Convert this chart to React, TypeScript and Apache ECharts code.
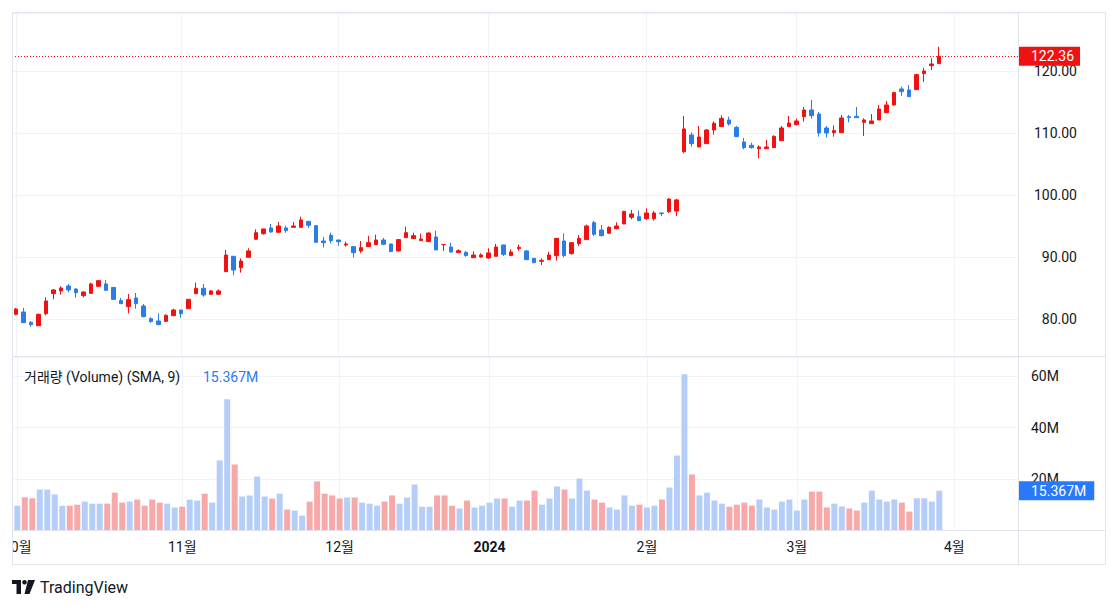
import React, { useEffect, useRef } from "react";
import * as echarts from "echarts";

// Trading sessions shown on the time scale (month -> days)
const tradingMonths: [string, number[]][] = [
  ["2023-10", [2, 3, 4, 5, 6, 9, 10, 11, 12, 13, 16, 17, 18, 19, 20, 23, 24, 25, 26, 27, 30, 31]],
  ["2023-11", [1, 2, 3, 6, 7, 8, 9, 10, 13, 14, 15, 16, 17, 20, 21, 22, 24, 27, 28, 29, 30]],
  ["2023-12", [1, 4, 5, 6, 7, 8, 11, 12, 13, 14, 15, 18, 19, 20, 21, 22, 26, 27, 28, 29]],
  ["2024-01", [2, 3, 4, 5, 8, 9, 10, 11, 12, 16, 17, 18, 19, 22, 23, 24, 25, 26, 29, 30, 31]],
  ["2024-02", [1, 2, 5, 6, 7, 8, 9, 12, 13, 14, 15, 16, 20, 21, 22, 23, 26, 27, 28, 29]],
  ["2024-03", [1, 4, 5, 6, 7, 8, 11, 12, 13, 14, 15, 18, 19, 20, 21, 22, 25, 26, 27, 28, 29]],
  ["2024-04", [1, 2, 3, 4, 5, 8, 9, 10, 11]],
];

const opens = [
  80.75, 81.13, 79.46, 78.92, 80.86, 84.09, 84.52, 85.32, 84.84, 83.76,
  84.14, 85.27, 85.65, 85.1, 82.96, 81.99, 83.39, 82.1, 80.05, 79.68,
  79.62, 80.54, 81.45, 81.67, 84.09, 84.95, 83.98, 83.98, 87.63, 90.11,
  88.28, 89.95, 92.85, 93.76, 94.68, 93.98, 94.68, 94.78, 94.78, 95.75,
  95.05, 92.58, 93.49, 92.74, 91.94, 91.67, 90.97, 91.67, 91.99, 92.74,
  92.1, 90.97, 93.12, 92.96, 92.63, 92.47, 93.23, 92.0, 91.61, 90.7,
  90.75, 89.89, 90.0, 89.84, 90.11, 91.94, 90.22, 91.34, 90.97, 89.78,
  89.3, 89.57, 90.22, 92.58, 90.54, 92.15, 92.8, 95.54, 94.35, 93.82,
  94.57, 95.32, 96.4, 96.5, 96.18, 96.18, 97.1, 97.3, 97.4, 106.99,
  109.68, 107.74, 108.28, 110.48, 111.02, 112.1, 110.91, 108.55, 108.01, 107.47,
  107.47, 107.63, 108.76, 111.02, 111.34, 112.63, 113.71, 113.06, 110.81, 110.05,
  110.05, 112.63, 112.69, 111.72, 111.51, 112.1, 113.28, 114.52, 117.1, 116.94,
  116.99, 119.57, 120.86, 121.18,
];
const highs = [
  81.77, 81.77, 79.68, 80.86, 83.5, 84.84, 85.27, 85.65, 84.95, 84.46,
  85.86, 86.29, 86.29, 85.1, 83.39, 84.03, 84.19, 82.42, 80.27, 80.91,
  80.75, 81.67, 81.45, 83.17, 85.86, 85.65, 84.68, 84.78, 91.13, 90.11,
  89.78, 91.4, 94.46, 94.52, 95.32, 95.65, 95.05, 95.65, 96.5, 95.75,
  95.16, 93.23, 93.92, 92.74, 92.47, 91.67, 92.58, 93.39, 93.6, 93.06,
  92.1, 92.9, 94.89, 93.92, 93.76, 93.98, 94.25, 92.04, 92.31, 91.24,
  90.91, 90.91, 90.59, 91.4, 92.1, 91.94, 91.24, 91.99, 91.13, 89.78,
  89.78, 90.81, 93.01, 93.82, 92.31, 93.55, 95.22, 95.81, 95.16, 94.95,
  95.59, 97.37, 97.58, 97.47, 97.85, 97.42, 97.2, 99.5, 99.4, 112.74,
  110.11, 111.13, 110.65, 111.88, 112.85, 112.63, 111.13, 109.19, 108.44, 108.01,
  108.87, 109.62, 111.13, 112.74, 112.31, 114.19, 115.32, 113.39, 111.13, 111.24,
  112.9, 112.9, 114.19, 112.37, 113.06, 114.52, 115.16, 116.67, 117.47, 117.74,
  119.57, 120.48, 122.04, 123.92,
];
const lows = [
  80.59, 79.35, 78.76, 78.92, 80.59, 83.17, 83.92, 84.3, 83.44, 83.49,
  84.03, 85.22, 84.62, 83.17, 82.47, 80.91, 81.67, 80.27, 79.41, 79.09,
  79.52, 80.43, 80.22, 81.67, 84.09, 83.6, 83.98, 83.98, 87.58, 87.04,
  87.47, 89.95, 92.85, 93.6, 93.92, 93.98, 93.92, 94.78, 94.78, 94.68,
  92.37, 91.53, 92.2, 91.83, 91.67, 89.9, 90.65, 91.67, 91.99, 92.04,
  90.86, 90.86, 93.12, 92.96, 92.63, 92.47, 91.13, 90.97, 90.7, 90.7,
  90.05, 89.89, 89.89, 89.73, 90.11, 90.16, 90.22, 91.02, 89.52, 88.98,
  88.71, 89.57, 89.41, 89.95, 90.38, 91.77, 92.8, 93.39, 93.33, 93.82,
  94.46, 95.32, 96.08, 95.86, 95.97, 95.86, 96.6, 97.1, 96.6, 106.72,
  107.8, 107.74, 108.28, 109.73, 111.02, 111.18, 109.41, 107.37, 107.47, 105.91,
  107.47, 107.63, 108.76, 111.02, 111.24, 111.83, 112.31, 109.41, 109.25, 109.41,
  110.05, 111.72, 112.47, 109.52, 111.51, 112.1, 113.28, 114.41, 115.97, 115.86,
  116.99, 118.23, 120.16, 121.18,
];
const closes = [
  81.61, 79.41, 79.09, 80.75, 82.9, 84.68, 85.0, 84.68, 84.25, 84.35,
  85.65, 86.18, 84.62, 83.17, 82.47, 83.12, 82.47, 80.38, 79.57, 79.09,
  80.59, 81.45, 80.86, 83.17, 84.95, 83.87, 84.52, 84.52, 90.32, 87.9,
  89.35, 90.97, 93.92, 94.52, 94.03, 95.0, 94.25, 95.0, 95.97, 95.11,
  92.37, 92.3, 92.63, 92.47, 92.1, 90.7, 91.5, 92.31, 92.74, 92.04,
  90.86, 92.8, 93.92, 93.44, 92.9, 93.87, 91.13, 92.0, 90.81, 91.02,
  90.22, 90.32, 90.32, 90.65, 91.61, 90.43, 90.81, 91.56, 89.57, 89.09,
  89.46, 90.32, 93.01, 90.22, 92.31, 93.01, 95.0, 93.66, 93.44, 94.78,
  95.0, 97.37, 96.94, 95.86, 97.1, 97.1, 97.0, 99.35, 99.2, 110.65,
  108.28, 109.35, 110.48, 111.56, 112.37, 111.45, 109.41, 107.63, 107.63, 107.74,
  107.74, 109.46, 110.81, 111.61, 111.94, 113.71, 112.8, 110.0, 110.0, 110.38,
  112.42, 112.47, 112.47, 112.1, 111.94, 113.87, 114.52, 116.51, 116.67, 115.86,
  119.41, 120.0, 121.13, 122.36,
];
// Volume in millions
const volumes = [
  9.5, 12.8, 12.4, 15.8, 15.8, 13.9, 9.5, 9.5, 9.9, 11.1,
  10.3, 10.3, 10.3, 14.6, 10.7, 11.1, 11.9, 9.5, 11.9, 10.7,
  10.3, 8.8, 9.1, 11.9, 11.5, 14.2, 10.7, 27.2, 51.1, 25.6,
  13.1, 13.5, 20.9, 13.1, 12.3, 14.2, 8.0, 7.6, 5.6, 11.1,
  19.0, 14.2, 13.5, 12.3, 12.7, 12.7, 10.7, 10.3, 9.5, 11.1,
  13.5, 10.3, 12.7, 17.8, 9.1, 9.1, 13.5, 13.5, 9.5, 8.4,
  11.5, 8.8, 9.5, 10.7, 12.3, 12.3, 9.1, 11.5, 11.5, 15.4,
  9.9, 12.3, 17.0, 15.8, 12.3, 20.1, 15.4, 11.9, 10.7, 8.8,
  8.0, 13.5, 9.5, 9.9, 8.8, 9.5, 11.9, 16.6, 29.1, 60.9,
  21.7, 13.5, 14.6, 11.5, 10.3, 9.1, 9.9, 10.7, 9.5, 11.9,
  8.8, 8.0, 11.1, 11.9, 7.6, 11.9, 15.0, 15.0, 8.8, 10.3,
  9.2, 8.4, 7.6, 10.7, 15.4, 11.9, 11.1, 11.9, 10.7, 7.2,
  12.4, 12.4, 11.1, 15.367,
];
const lastPrice = 122.36;
const lastVolume = 15.367;
const volumeTicks = [20, 40, 60];
const legendName = "거래량 (Volume) (SMA, 9)";

const FONT = "Roboto, 'Noto Sans CJK KR', 'Noto Sans', sans-serif";
const UP = "#f01212";
const DOWN = "#2a7de6";
const VOL_UP = "#b5cef8";
const VOL_DOWN = "#f7a8a8";
const GRID = "#f0f3fa";
const FRAME = "#e0e3eb";
const TEXT = "#131722";
const FS = 14;

const dates: string[] = [];
tradingMonths.forEach(([ym, days]) =>
  days.forEach((d) => dates.push(`${ym}-${String(d).padStart(2, "0")}`))
);
const monthStart = new Set<number>();
dates.forEach((d, i) => {
  if (i === 0 || d.slice(0, 7) !== dates[i - 1].slice(0, 7)) monthStart.add(i);
});
const isMonthStart = (i: number) => monthStart.has(i);
const timeLabel = (v: string) => {
  const [y, m] = v.split("-");
  return m === "01" ? `{y|${y}}` : `${Number(m)}월`;
};

export default function App() {
  const ref = useRef<HTMLDivElement>(null);
  useEffect(() => {
    if (!ref.current) return;
    const chart = echarts.init(ref.current, undefined, { renderer: "svg" });
    const candles = opens.map((o, i) => [o, closes[i], lows[i], highs[i]]);
    const vols = volumes.map((v, i) => ({
      value: v,
      itemStyle: { color: closes[i] > opens[i] ? VOL_UP : VOL_DOWN },
    }));
    const vSplit = {
      show: true,
      interval: isMonthStart,
      alignWithLabel: true,
      lineStyle: { color: GRID, width: 1 },
    };
    chart.setOption({
      animation: false,
      textStyle: { fontFamily: FONT },
      grid: [
        { left: 12, top: 13, width: 1006, height: 343 },
        { left: 12, top: 357, width: 1006, height: 173 },
      ],
      xAxis: [
        {
          type: "category",
          gridIndex: 0,
          data: dates,
          axisLine: { show: false },
          axisTick: { show: false },
          axisLabel: { show: false },
          splitLine: vSplit,
        },
        {
          type: "category",
          gridIndex: 1,
          data: dates,
          axisLine: { show: false },
          axisTick: { show: false },
          axisLabel: {
            show: true,
            interval: (i: number) => isMonthStart(i),
            formatter: timeLabel,
            margin: 10,
            color: TEXT,
            fontSize: FS,
            fontFamily: FONT,
            rich: { y: { fontWeight: "bold", fontSize: FS, color: TEXT, fontFamily: FONT } },
          },
          splitLine: vSplit,
        },
      ],
      yAxis: [
        {
          type: "value",
          gridIndex: 0,
          position: "right",
          min: 74.03,
          max: 129.35,
          splitNumber: 5,
          axisLine: { show: false },
          axisTick: { show: false },
          axisLabel: {
            align: "right",
            margin: 59,
            color: TEXT,
            fontSize: FS,
            fontFamily: FONT,
            showMinLabel: false,
            showMaxLabel: false,
            formatter: (v: number) => v.toFixed(2),
          },
          splitLine: { show: true, lineStyle: { color: GRID } },
        },
        {
          type: "value",
          gridIndex: 1,
          position: "right",
          min: 0,
          max: 67.6,
          interval: 20,
          axisLine: { show: false },
          axisTick: { show: false },
          axisLabel: {
            align: "left",
            margin: 13,
            color: TEXT,
            fontSize: FS,
            fontFamily: FONT,
            showMinLabel: false,
            showMaxLabel: false,
            formatter: (v: number) => (volumeTicks.includes(v) ? `${v}M` : ""),
          },
          splitLine: { show: true, lineStyle: { color: GRID } },
        },
      ],
      series: [
        {
          type: "candlestick",
          xAxisIndex: 0,
          yAxisIndex: 0,
          data: candles,
          barWidth: 4,
          z: 3,
          itemStyle: {
            color: UP,
            color0: DOWN,
            borderColor: UP,
            borderColor0: DOWN,
            borderWidth: 1,
          },
          markLine: {
            silent: true,
            symbol: ["none", "none"],
            data: [{ yAxis: lastPrice }],
            lineStyle: { color: UP, type: [1, 2], width: 1 },
            label: {
              show: true,
              position: "end",
              distance: 0,
              formatter: lastPrice.toFixed(2),
              color: "#ffffff",
              backgroundColor: UP,
              padding: [3, 6, 2, 13],
              fontSize: FS,
              fontFamily: FONT,
            },
          },
        },
        {
          type: "bar",
          xAxisIndex: 1,
          yAxisIndex: 1,
          data: vols,
          barWidth: 6,
          z: 3,
          markLine: {
            silent: true,
            symbol: ["none", "none"],
            data: [{ yAxis: lastVolume }],
            lineStyle: { color: "rgba(0,0,0,0)", width: 1 },
            label: {
              show: true,
              position: "end",
              distance: 0,
              formatter: `${lastVolume.toFixed(3)}M`,
              color: "#ffffff",
              backgroundColor: "#2979ff",
              padding: [3, 8, 2, 13],
              fontSize: FS,
              fontFamily: FONT,
            },
          },
        },
      ],
      graphic: [
        { type: "rect", z: 100, shape: { x: 0, y: 531, width: 12, height: 34 }, style: { fill: "#ffffff" } },
        { type: "rect", z: 101, shape: { x: 12.5, y: 12.5, width: 1093, height: 552 }, style: { fill: "none", stroke: FRAME, lineWidth: 1 } },
        { type: "line", z: 101, shape: { x1: 1018.5, y1: 12.5, x2: 1018.5, y2: 564.5 }, style: { stroke: FRAME, lineWidth: 1 } },
        { type: "line", z: 101, shape: { x1: 12.5, y1: 356.5, x2: 1105.5, y2: 356.5 }, style: { stroke: FRAME, lineWidth: 1 } },
        { type: "line", z: 101, shape: { x1: 12.5, y1: 530.5, x2: 1105.5, y2: 530.5 }, style: { stroke: FRAME, lineWidth: 1 } },
        {
          type: "text",
          z: 101,
          x: 24,
          y: 377,
          style: { text: legendName, fill: TEXT, font: `${FS}px ${FONT}`, verticalAlign: "middle" },
        },
        {
          type: "text",
          z: 101,
          x: 203,
          y: 377,
          style: { text: `${lastVolume.toFixed(3)}M`, fill: "#2a7aef", font: `${FS}px ${FONT}`, verticalAlign: "middle" },
        },
        { type: "rect", z: 101, shape: { x: 12, y: 580, width: 9, height: 4 }, style: { fill: TEXT } },
        { type: "rect", z: 101, shape: { x: 16.5, y: 580, width: 4.5, height: 14 }, style: { fill: TEXT } },
        { type: "circle", z: 101, shape: { cx: 24.5, cy: 582.3, r: 2.3 }, style: { fill: TEXT } },
        { type: "polygon", z: 101, shape: { points: [[28, 580], [35, 580], [29.5, 594], [24.5, 594]] }, style: { fill: TEXT } },
        {
          type: "text",
          z: 101,
          x: 40,
          y: 587.5,
          style: { text: "TradingView", fill: TEXT, font: `16px ${FONT}`, verticalAlign: "middle" },
        },
      ],
    });
    return () => chart.dispose();
  }, []);
  return (
    <div
      ref={ref}
      style={{ position: "absolute", left: 0, top: 0, width: 1118, height: 609, background: "#ffffff" }}
    />
  );
}
